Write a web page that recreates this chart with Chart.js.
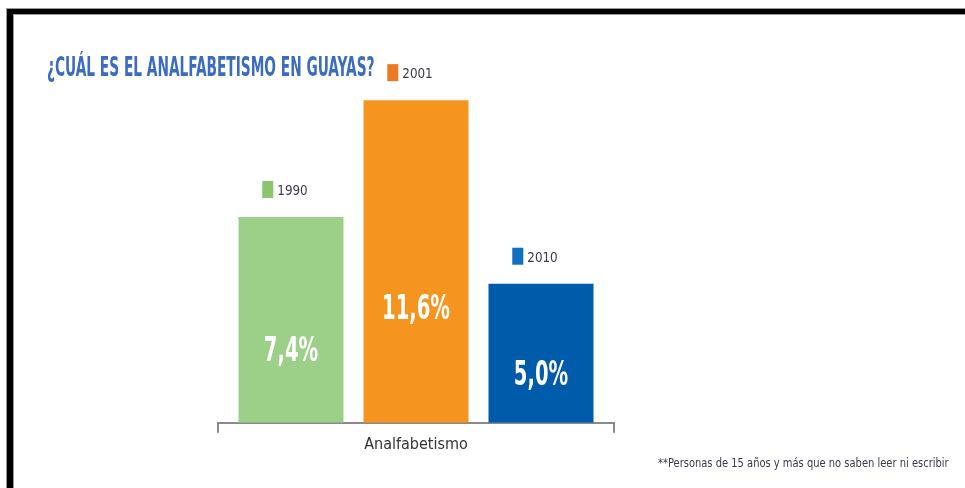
<!DOCTYPE html>
<html>
<head>
<meta charset="utf-8">
<script src="https://cdn.jsdelivr.net/npm/chart.js@4/dist/chart.umd.min.js"></script>
<style>
  html, body { margin: 0; padding: 0; background: #fff; }
  canvas { display: block; }
</style>
</head>
<body>
<canvas id="chart" width="965" height="488"></canvas>
<script>
"use strict";

const categories = ['Analfabetismo'];
const years = ['1990', '2001', '2010'];
const rates = [7.4, 11.6, 5.0];
const titleText = '¿CUÁL ES EL ANALFABETISMO EN GUAYAS?';
const noteText = '**Personas de 15 años y más que no saben leer ni escribir';

const barColors = ['#9ccf88', '#f5941f', '#005bab'];
const keyColors = ['#8cc66c', '#ec7a24', '#1170c0'];

// texto comprimido horizontalmente (fuente condensada del original)
function drawText(ctx, text, x, y, font, color, sx, align) {
  ctx.save();
  ctx.font = font;
  ctx.fillStyle = color;
  ctx.textBaseline = 'alphabetic';
  const w = ctx.measureText(text).width * sx;
  let left = x;
  if (align === 'center') left = x - w / 2;
  if (align === 'right') left = x - w;
  ctx.translate(left, y);
  ctx.scale(sx, 1);
  ctx.fillText(text, 0, 0);
  ctx.restore();
  return w;
}

const frame = {
  id: 'frame',
  beforeDraw(chart) {
    const ctx = chart.ctx;
    ctx.save();
    ctx.fillStyle = '#fff';
    ctx.fillRect(0, 0, chart.width, chart.height);
    ctx.fillStyle = '#999';
    ctx.fillRect(6, 8, chart.width - 6, 7);
    ctx.fillRect(6, 8, 8, chart.height - 8);
    ctx.fillStyle = '#000';
    ctx.fillRect(7, 9, chart.width - 7, 5);
    ctx.fillRect(7, 9, 6, chart.height - 9);
    ctx.restore();
  },
  afterDraw(chart) {
    const ctx = chart.ctx;
    drawText(ctx, titleText, 47, 76, 'bold 27px "DejaVu Sans Condensed"', '#3b6cc2', 0.565, 'left');
    drawText(ctx, noteText, 658, 467, '12px "DejaVu Sans Condensed"', '#3a3a4c', 0.92, 'left');
  }
};

const barLabels = {
  id: 'barLabels',
  afterDatasetsDraw(chart) {
    const ctx = chart.ctx;
    chart.data.datasets.forEach((ds, i) => {
      const bar = chart.getDatasetMeta(i).data[0];
      const value = ds.data[0];
      const txt = value.toFixed(1).replace('.', ',') + '%';
      const h = bar.base - bar.y;
      const cy = bar.base - h * 0.36;
      drawText(ctx, txt, bar.x, cy + 12, 'bold 33px "DejaVu Sans Condensed"', '#fff', 0.66, 'center');

      // marca de año sobre cada barra
      const ky = bar.y - 27;
      ctx.save();
      ctx.font = '14px "DejaVu Sans Condensed"';
      const tw = ctx.measureText(ds.label).width * 0.95;
      ctx.restore();
      const gw = 11 + 4 + tw;
      const gx = bar.x - 6 - gw / 2;
      ctx.save();
      ctx.fillStyle = keyColors[i];
      ctx.fillRect(gx, ky - 9, 11, 17);
      ctx.restore();
      drawText(ctx, ds.label, gx + 15, ky + 5, '14px "DejaVu Sans Condensed"', '#3a3a4c', 0.95, 'left');
    });
  }
};

new Chart(document.getElementById('chart'), {
  type: 'bar',
  data: {
    labels: categories,
    datasets: years.map((y, i) => ({
      label: y,
      data: [rates[i]],
      backgroundColor: barColors[i],
      borderWidth: 0,
      barPercentage: 0.84,
      categoryPercentage: 0.947
    }))
  },
  options: {
    responsive: false,
    animation: false,
    devicePixelRatio: 1,
    layout: { padding: { left: 218, right: 351, top: 89, bottom: 32 } },
    plugins: {
      legend: { display: false },
      tooltip: { enabled: false }
    },
    scales: {
      x: {
        grid: {
          display: true,
          offset: true,
          drawOnChartArea: false,
          drawTicks: true,
          tickLength: 10,
          color: '#8a8a8a',
          lineWidth: 2
        },
        border: { display: true, color: '#8a8a8a', width: 2 },
        ticks: {
          color: '#333',
          padding: 2,
          font: { family: '"DejaVu Sans Condensed"', size: 16 }
        }
      },
      y: {
        display: false,
        min: 0,
        max: 12
      }
    }
  },
  plugins: [frame, barLabels]
});
</script>
</body>
</html>
